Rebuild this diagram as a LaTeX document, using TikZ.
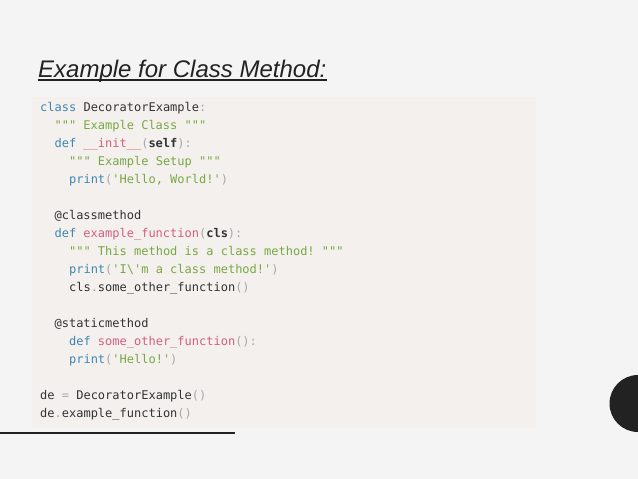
\documentclass[tikz,border=0pt]{standalone}
\usepackage{fontspec}
\setmainfont{Liberation Sans}
\setmonofont{DejaVu Sans Mono}

\definecolor{pagebg}{HTML}{F4F4F4}
\definecolor{codebg}{HTML}{F3F0ED}
\definecolor{kwblue}{HTML}{3C87B0}
\definecolor{strgreen}{HTML}{78A843}
\definecolor{fnpink}{HTML}{D2607C}
\definecolor{punctgray}{HTML}{A8A8A8}
\definecolor{plaintext}{HTML}{333333}
\definecolor{darkgray}{HTML}{222222}

\newcommand{\kw}[1]{\textcolor{kwblue}{#1}}
\newcommand{\st}[1]{\textcolor{strgreen}{#1}}
\newcommand{\fn}[1]{\textcolor{fnpink}{#1}}
\newcommand{\pu}[1]{\textcolor{punctgray}{#1}}

\begin{document}
\begin{tikzpicture}[x=1pt,y=-1pt,
  codeline/.style={anchor=base west,inner sep=0pt,text=plaintext,
    font=\ttfamily\fontsize{12}{14}\selectfont}]

\useasboundingbox (0,0) rectangle (638,479);
\fill[pagebg] (0,0) rectangle (638,479);
\fill[codebg] (32,97) rectangle (536,428);

% title
\node[anchor=base west,inner sep=0pt,text=darkgray,font=\itshape\fontsize{24}{28}\selectfont] (title) at (38,77) {Example for Class Method:};
\draw[darkgray,line width=1.2pt] ([yshift=-3pt]title.base west) -- ([yshift=-3pt]title.base east);

% code
\node[codeline] (line1) at (40,111.5) {\kw{class} DecoratorExample\pu{:}};
\node[codeline] (line2) at (54.4,129.5) {\st{""" Example Class """}};
\node[codeline] (line3) at (54.4,147.5) {\kw{def} \fn{\_\_init\_\_}\pu{(}\textbf{self}\pu{):}};
\node[codeline] (line4) at (68.9,165.5) {\st{""" Example Setup """}};
\node[codeline] (line5) at (68.9,183.5) {\kw{print}\pu{(}\st{'Hello, World!'}\pu{)}};

\node[codeline] (line7) at (54.4,219.5) {@classmethod};
\node[codeline] (line8) at (54.4,237.5) {\kw{def} \fn{example\_function}\pu{(}\textbf{cls}\pu{):}};
\node[codeline] (line9) at (68.9,255.5) {\st{""" This method is a class method! """}};
\node[codeline] (line10) at (68.9,273.5) {\kw{print}\pu{(}\st{'I\textbackslash'm a class method!'}\pu{)}};
\node[codeline] (line11) at (68.9,291.5) {cls\pu{.}some\_other\_function\pu{()}};

\node[codeline] (line13) at (54.4,327.5) {@staticmethod};
\node[codeline] (line14) at (68.9,345.5) {\kw{def} \fn{some\_other\_function}\pu{():}};
\node[codeline] (line15) at (68.9,363.5) {\kw{print}\pu{(}\st{'Hello!'}\pu{)}};

\node[codeline] (line17) at (40,399.5) {de \pu{=} DecoratorExample\pu{()}};
\node[codeline] (line18) at (40,417.5) {de\pu{.}example\_function\pu{()}};

\draw[darkgray,line width=2pt] (0,433) -- (235,433);
\fill[darkgray] (638,403.5) circle (28.5pt);

\end{tikzpicture}
\end{document}
